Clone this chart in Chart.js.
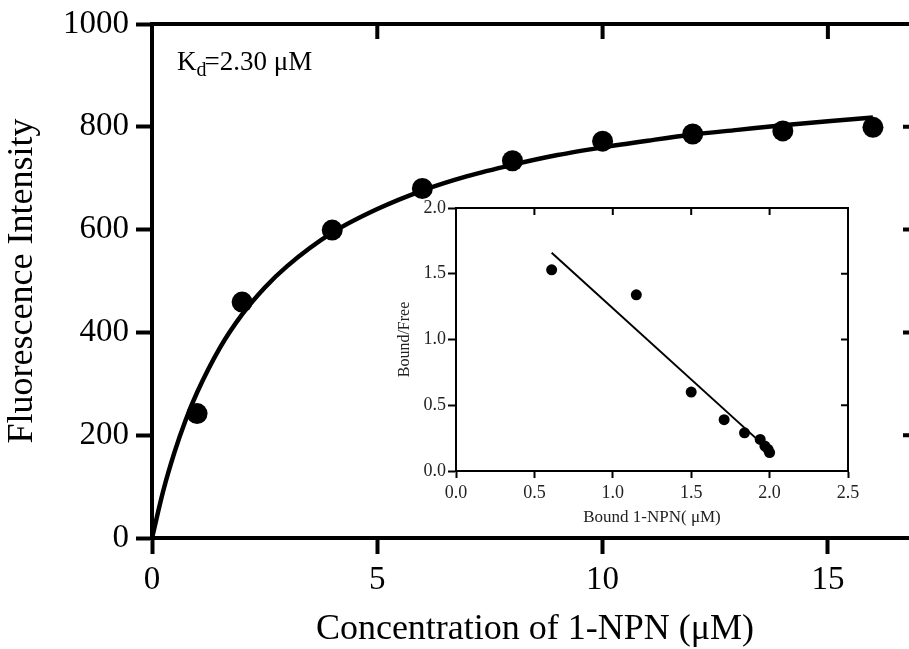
<!DOCTYPE html>
<html><head><meta charset="utf-8">
<script src="https://cdn.jsdelivr.net/npm/chart.js@4.4.1/dist/chart.umd.min.js"></script>
<style>
html,body{margin:0;padding:0;overflow:hidden;background:#fff;width:909px;height:649px;}
#clip{position:relative;width:909px;height:649px;overflow:hidden;background:#fff;}
#wrap{position:absolute;left:0;top:0;width:920px;height:649px;}
#main{position:absolute;left:0;top:0;width:918px;height:649px;}
#insetBox{position:absolute;left:380px;top:190px;width:500px;height:340px;}
#inset{width:500px;height:340px;}
</style></head><body>
<div id="clip"><div id="wrap">
<canvas id="main" width="918" height="649" style="width:918px;height:649px"></canvas>
<div id="insetBox"><canvas id="inset" width="500" height="340" style="width:500px;height:340px"></canvas></div>
</div></div>
<script>
// ---- main saturation binding data ----
const concentration = [1, 2, 4, 6, 8, 10, 12, 14, 16];
const fluorescence = [242, 459, 599, 680, 734, 772, 786, 792, 799];
const fitConcentration = [0, 0.25, 0.5, 0.75, 1, 1.5, 2, 2.5, 3, 4, 5, 6, 7, 8, 9, 10, 11, 12, 13, 14, 15, 16];
const fitFluorescence = [0, 92, 167, 230, 283, 369, 435, 487, 529, 594, 640, 676, 704, 726, 745, 760, 773, 785, 794, 803, 811, 818];
const mainXTicks = [0, 5, 10, 15];
const mainYTicks = [0, 200, 400, 600, 800, 1000];
const mainXTitle = 'Concentration of 1-NPN (\u03bcM)';
const mainYTitle = 'Fluorescence Intensity';
const kdMain = 'K', kdSub = 'd', kdRest = '=2.30 \u03bcM';

// ---- inset Scatchard data ----
const boundNPN = [0.61, 1.15, 1.50, 1.71, 1.84, 1.94, 1.97, 1.99, 2.00];
const boundFree = [1.53, 1.34, 0.60, 0.39, 0.29, 0.24, 0.19, 0.165, 0.14];
const lineBound = [0.61, 2.00];
const lineRatio = [1.66, 0.155];
const insetXTicks = [0, 0.5, 1, 1.5, 2, 2.5];
const insetYTicks = [0, 0.5, 1, 1.5, 2];
const insetXTitle = 'Bound 1-NPN( \u03bcM)';
const insetYTitle = 'Bound/Free';

const SERIF = "'Liberation Serif', 'Times New Roman', serif";

function pts(xs, ys) { return xs.map((x, i) => ({x: x, y: ys[i]})); }

// frame plugin: top + right border with inward ticks
const framePlugin = {
  id: 'frame',
  afterDraw(chart, args, opts) {
    const {ctx, chartArea: a, scales} = chart;
    const lw = opts.lineWidth, tl = opts.tickLength;
    ctx.save();
    ctx.strokeStyle = '#000';
    ctx.lineWidth = lw;
    ctx.lineCap = 'butt';
    ctx.beginPath();
    ctx.moveTo(a.left - lw / 2, a.top);
    ctx.lineTo(a.right + lw / 2, a.top);
    ctx.moveTo(a.right, a.top);
    ctx.lineTo(a.right, a.bottom);
    scales.x.ticks.forEach(t => {
      const px = scales.x.getPixelForValue(t.value);
      if (px > a.left + 1 && px < a.right - 1) { ctx.moveTo(px, a.top); ctx.lineTo(px, a.top + tl); }
    });
    scales.y.ticks.forEach(t => {
      const py = scales.y.getPixelForValue(t.value);
      if (py > a.top + 1 && py < a.bottom - 1) { ctx.moveTo(a.right, py); ctx.lineTo(a.right - tl, py); }
    });
    ctx.stroke();
    ctx.restore();
  }
};

const kdPlugin = {
  id: 'kd',
  afterDraw(chart) {
    const {ctx, chartArea: a} = chart;
    const x0 = a.left + 25, base = a.top + 46;
    ctx.save();
    ctx.fillStyle = '#000';
    ctx.textBaseline = 'alphabetic';
    ctx.font = '27px ' + SERIF;
    ctx.fillText(kdMain, x0, base);
    const w = ctx.measureText(kdMain).width;
    ctx.font = '20px ' + SERIF;
    ctx.fillText(kdSub, x0 + w, base + 6);
    const w2 = ctx.measureText(kdSub).width;
    ctx.font = '27px ' + SERIF;
    ctx.fillText(kdRest, x0 + w + w2 - 2, base);
    ctx.restore();
  }
};

function axisCfg(o) {
  return {
    type: 'linear',
    min: o.min, max: o.max,
    afterBuildTicks: s => { s.ticks = o.ticks.map(v => ({value: v})); },
    afterFit: s => {
      if (o.width !== undefined) s.width = o.width;
      if (o.height !== undefined) s.height = o.height;
      s.paddingTop = 0; s.paddingBottom = 0; s.paddingLeft = 0; s.paddingRight = 0;
    },
    border: {display: true, color: '#000', width: o.lw},
    grid: {drawOnChartArea: false, drawTicks: true, tickLength: o.tl, tickWidth: o.lw, tickColor: '#000'},
    ticks: {
      color: o.tickColor, padding: o.pad,
      font: {family: SERIF, size: o.fontSize, lineHeight: 1},
      callback: o.fmt, maxRotation: 0, minRotation: 0, autoSkip: false
    },
    title: {
      display: true, text: o.title, color: o.titleColor,
      font: {family: SERIF, size: o.titleSize, lineHeight: 1},
      padding: o.titlePad
    }
  };
}

new Chart(document.getElementById('main'), {
  type: 'scatter',
  data: {
    datasets: [
      {
        label: 'data', data: pts(concentration, fluorescence),
        pointRadius: 10.5, pointHoverRadius: 10.5, backgroundColor: '#000', borderWidth: 0, showLine: false
      },
      {
        label: 'fit', data: pts(fitConcentration, fitFluorescence),
        showLine: true, borderColor: '#000', borderWidth: 4.5, pointRadius: 0,
        cubicInterpolationMode: 'monotone', fill: false
      }
    ]
  },
  options: {
    responsive: false, maintainAspectRatio: false, animation: false, devicePixelRatio: 1,
    layout: {autoPadding: false, padding: {top: 24, left: 0, right: 0, bottom: 0}},
    plugins: {legend: {display: false}, tooltip: {enabled: false}, frame: {lineWidth: 4, tickLength: 15}},
    scales: {
      x: axisCfg({min: 0, max: 17, ticks: mainXTicks, height: 111, lw: 4, tl: 16, pad: 10,
        fontSize: 33, tickColor: '#000', fmt: v => String(v), title: mainXTitle, titleColor: '#000',
        titleSize: 36, titlePad: {top: 0, bottom: 1}}),
      y: axisCfg({min: 0, max: 1000, ticks: mainYTicks, width: 152, lw: 4, tl: 16, pad: 7,
        fontSize: 33, tickColor: '#000', fmt: v => String(v), title: mainYTitle, titleColor: '#000',
        titleSize: 36, titlePad: {top: 5, bottom: 0}})
    }
  },
  plugins: [framePlugin, kdPlugin]
});

new Chart(document.getElementById('inset'), {
  type: 'scatter',
  data: {
    datasets: [
      {
        label: 'scatchard', data: pts(boundNPN, boundFree),
        pointRadius: 5.5, pointHoverRadius: 5.5, backgroundColor: '#000', borderWidth: 0, showLine: false
      },
      {
        label: 'regression', data: pts(lineBound, lineRatio),
        showLine: true, borderColor: '#000', borderWidth: 2, pointRadius: 0, fill: false
      }
    ]
  },
  options: {
    responsive: false, maintainAspectRatio: false, animation: false, devicePixelRatio: 1,
    layout: {autoPadding: false, padding: {top: 18, left: 0, right: 32, bottom: 0}},
    plugins: {legend: {display: false}, tooltip: {enabled: false}, frame: {lineWidth: 2, tickLength: 7}},
    scales: {
      x: axisCfg({min: 0, max: 2.5, ticks: insetXTicks, height: 59, lw: 2, tl: 7, pad: 6,
        fontSize: 18, tickColor: '#222', fmt: v => Number(v).toFixed(1), title: insetXTitle, titleColor: '#222',
        titleSize: 17, titlePad: {top: 0, bottom: 4}}),
      y: axisCfg({min: 0, max: 2, ticks: insetYTicks, width: 76, lw: 2, tl: 8, pad: 2,
        fontSize: 18, tickColor: '#222', fmt: v => Number(v).toFixed(1), title: insetYTitle, titleColor: '#222',
        titleSize: 16, titlePad: {top: 17, bottom: 0}})
    }
  },
  plugins: [framePlugin]
});
</script>
</body></html>
